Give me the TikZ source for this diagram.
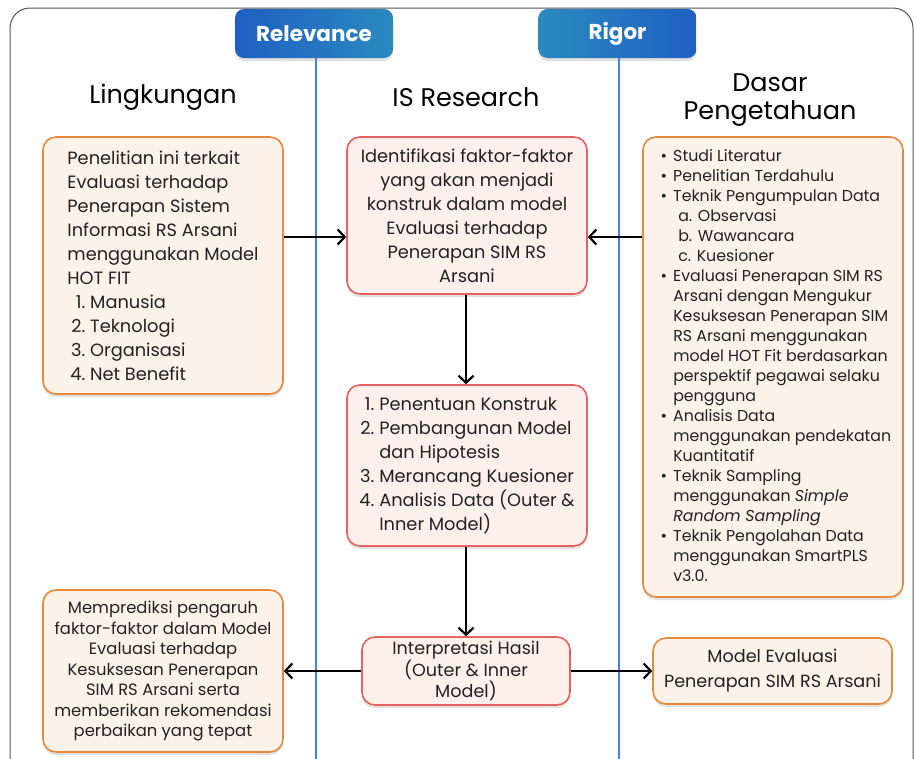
\documentclass[tikz,border=0pt]{standalone}
\usepackage{fontspec}
\setmainfont{Poppins}
\usetikzlibrary{positioning, arrows.meta, calc, shadows}

\definecolor{oranye}{HTML}{E8893A}
\definecolor{krem}{HTML}{FDF2EA}
\definecolor{merah}{HTML}{E66262}
\definecolor{merahmuda}{HTML}{FDF0EA}
\definecolor{biruA}{HTML}{1F5FC2}
\definecolor{biruB}{HTML}{2A8ABF}
\definecolor{birugaris}{HTML}{3C84F0}
\definecolor{abu}{HTML}{555555}
\definecolor{tinta}{HTML}{222222}

\newcommand{\nomor}[1]{\makebox[18pt][r]{#1}\ }

\begin{document}
\begin{tikzpicture}[x=1pt, y=-1pt,
  panah/.style={line width=2.2pt, -{Straight Barb[length=7pt,width=15pt]}},
  bayang/.style={drop shadow={shadow xshift=0pt, shadow yshift=-3pt, opacity=0.12, fill=black}},
  kotakO/.style={draw=oranye, fill=krem, line width=1.6pt, rounded corners=13pt, bayang, inner sep=0pt, text=tinta},
  kotakM/.style={draw=merah, fill=merahmuda, line width=1.6pt, rounded corners=13pt, bayang, inner sep=0pt, text=tinta},
  tagbox/.style={rounded corners=9pt, minimum width=158pt, minimum height=49pt, text=white,
    font=\fontsize{21.5}{25}\selectfont\bfseries, bayang},
  judul/.style={font=\fontsize{25.5}{28}\selectfont, align=center},
  isi/.style={font=\fontsize{17.8}{24}\selectfont}]

\useasboundingbox (0,0) rectangle (915,758);
\draw[abu, line width=1pt, rounded corners=20pt] (10,8) rectangle (913,800);

\node[tagbox, left color=biruA, right color=biruB] (rel) at (314,33.5) {Relevance};
\node[tagbox, left color=biruB, right color=biruA] (rig) at (617.5,33.5) {Rigor};
\draw[birugaris, line width=2.5pt] (rel.south -| 316,0) -- (316,760);
\draw[birugaris, line width=2.5pt] (rig.south -| 619,0) -- (619,760);

\node[judul] (lingkungan) at (163,97) {Lingkungan};
\node[judul] (isresearch) at (466,97) {IS Research};
\node[judul] (dasar) at (770,100) {Dasar\\Pengetahuan};

\node[kotakO, isi, minimum width=240pt, minimum height=257pt, align=left] (lk) at (163,265.5)
  {Penelitian ini terkait\\Evaluasi terhadap\\Penerapan Sistem\\Informasi RS Arsani\\
   menggunakan Model\\HOT FIT\\\nomor{1.}Manusia\\\nomor{2.}Teknologi\\\nomor{3.}Organisasi\\\nomor{4.}Net Benefit};

\node[kotakM, isi, minimum width=240pt, minimum height=157pt, align=center] (identifikasi) at (467,215.5)
  {Identifikasi faktor-faktor\\yang akan menjadi\\konstruk dalam model\\Evaluasi terhadap\\Penerapan SIM RS\\Arsani};

\node[kotakO, minimum width=260pt, minimum height=460pt, font=\fontsize{15.8}{20}\selectfont] (dp) at (773,367)
  {\begin{tabular}{@{\hspace{6pt}}c@{\hspace{6pt}}l@{}}
   \textbullet & Studi Literatur\\
   \textbullet & Penelitian Terdahulu\\
   \textbullet & Teknik Pengumpulan Data\\
   & \hspace{5pt}a. Observasi\\
   & \hspace{5pt}b. Wawancara\\
   & \hspace{5pt}c. Kuesioner\\
   \textbullet & Evaluasi Penerapan SIM RS\\
   & Arsani dengan Mengukur\\
   & Kesuksesan Penerapan SIM\\
   & RS Arsani menggunakan\\
   & model HOT Fit berdasarkan\\
   & perspektif pegawai selaku\\
   & pengguna\\
   \textbullet & Analisis Data\\
   & menggunakan pendekatan\\
   & Kuantitatif\\
   \textbullet & Teknik Sampling\\
   & menggunakan \textit{Simple}\\
   & \textit{Random Sampling}\\
   \textbullet & Teknik Pengolahan Data\\
   & menggunakan SmartPLS\\
   & v3.0.
   \end{tabular}};

\node[kotakM, isi, minimum width=240pt, minimum height=161pt] (tahapan) at (467,465.5)
  {\begin{tabular}{@{}r@{\hspace{5pt}}l@{}}
   1. & Penentuan Konstruk\\
   2. & Pembangunan Model\\
      & dan Hipotesis\\
   3. & Merancang Kuesioner\\
   4. & Analisis Data (Outer \&\\
      & Inner Model)
   \end{tabular}};

\node[kotakM, minimum width=208pt, minimum height=68pt, align=center,
  font=\fontsize{17.6}{21.5}\selectfont] (interpretasi) at (466,671)
  {Interpretasi Hasil\\(Outer \& Inner\\Model)};

\node[kotakO, minimum width=240pt, minimum height=162pt, align=center,
  font=\fontsize{16.4}{20.5}\selectfont] (prediksi) at (163,671)
  {Memprediksi pengaruh\\faktor-faktor dalam Model\\Evaluasi terhadap\\Kesuksesan Penerapan\\SIM RS Arsani serta\\memberikan rekomendasi\\perbaikan yang tepat};

\node[kotakO, minimum width=239pt, minimum height=66pt, align=center,
  font=\fontsize{17.6}{25}\selectfont] (model) at (772.5,671)
  {Model Evaluasi\\Penerapan SIM RS Arsani};

\coordinate (y1) at (0,237);
\draw[panah] (lk.east |- y1) -- (identifikasi.west |- y1);
\draw[panah] (dp.west |- y1) -- (identifikasi.east |- y1);
\draw[panah] (identifikasi.south -| 466,0) -- (tahapan.north -| 466,0);
\draw[panah] (tahapan.south -| 466,0) -- (interpretasi.north);
\draw[panah] (interpretasi.west) -- (prediksi.east);
\draw[panah] (interpretasi.east) -- (model.west);
\end{tikzpicture}
\end{document}
